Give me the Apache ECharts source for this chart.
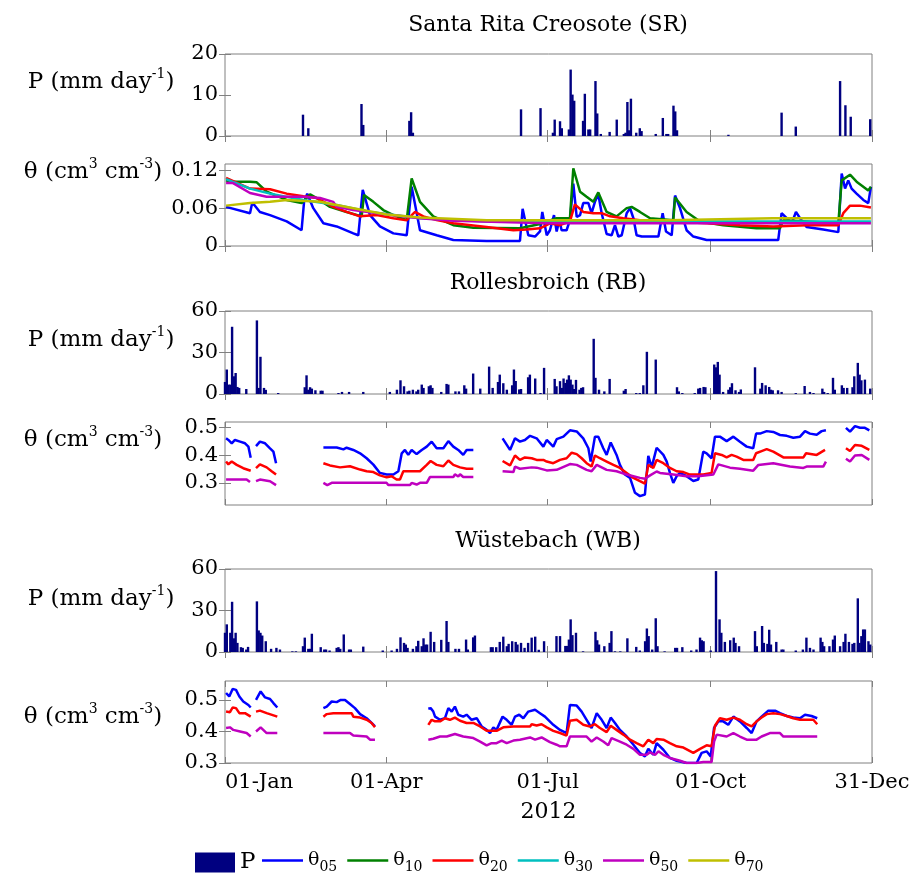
<!DOCTYPE html>
<html>
<head>
<meta charset="utf-8">
<script src="https://cdn.jsdelivr.net/npm/echarts@6/dist/echarts.min.js"></script>
<style>
html, body { margin: 0; padding: 0; background: #fff; }
#chart { width: 914px; height: 879px; }
</style>
</head>
<body>
<div id="chart"></div>
<script>
// day of year (0 = 01-Jan-2012) and value
const TICK_DAYS = [0, 91, 182, 274, 365]
const TICK_LABELS = ['01-Jan', '01-Apr', '01-Jul', '01-Oct', '31-Dec']
const YEAR = '2012'

// ---- Santa Rita Creosote ----
const SR_P = [[44,5.2],[47,1.9],[77,7.8],[78,2.7],[104,3.7],[105,5.8],[106,0.8],[167,6.5],[178,6.8],[185,0.8],[186,4.0],[189,3.6],[190,1.9],[194,1.6],[195,16.2],[196,10.1],[197,8.6],[202,3.7],[203,10.3],[205,1.6],[206,1.6],[209,13.4],[210,5.5],[212,0.5],[217,1.0],[221,4.0],[225,0.5],[226,0.8],[227,8.3],[228,1.4],[229,9.1],[232,0.8],[234,1.9],[235,1.2],[243,0.5],[247,4.4],[249,0.5],[250,0.5],[253,7.4],[254,6.0],[255,1.4],[284,0.3],[314,5.7],[322,2.3],[347,13.4],[350,7.5],[353,4.7],[364,4.1]]
const SR_T05 = [[0.6,0.062],[14.1,0.052],[15.4,0.069],[19.7,0.054],[25.4,0.049],[34.8,0.039],[43.2,0.025],[44.6,0.070],[46.4,0.083],[49.8,0.060],[55.5,0.036],[63,0.031],[72.4,0.020],[75.2,0.017],[77.7,0.089],[81.8,0.049],[87.4,0.031],[95,0.020],[102.5,0.017],[105.3,0.094],[110,0.025],[119.4,0.017],[128.8,0.0095],[147.6,0.008],[166.4,0.008],[167.9,0.059],[171.1,0.017],[174.9,0.015],[177.7,0.023],[179,0.054],[181.5,0.017],[183.3,0.025],[185.6,0.049],[187.1,0.023],[188.6,0.041],[189.9,0.025],[192.7,0.025],[194.6,0.041],[196.5,0.099],[198.4,0.046],[200.3,0.049],[202.1,0.068],[205,0.068],[206.8,0.052],[208.7,0.070],[210.6,0.082],[212.5,0.052],[215.3,0.019],[218.1,0.017],[220,0.033],[221.9,0.015],[223.8,0.017],[226.6,0.052],[228.5,0.060],[230.4,0.044],[232.2,0.017],[235.1,0.015],[244.5,0.015],[246.9,0.052],[248.8,0.023],[252,0.017],[253.9,0.080],[256.7,0.060],[260.4,0.025],[264.2,0.015],[271.7,0.0095],[290.5,0.0095],[312.1,0.0095],[314,0.052],[316.9,0.044],[319.7,0.036],[322.1,0.054],[324.4,0.044],[328.1,0.030],[337.5,0.026],[346,0.022],[347.9,0.115],[349.8,0.091],[351.6,0.104],[353.5,0.091],[356.3,0.083],[360.1,0.073],[362.9,0.068],[364.4,0.094]]
const SR_T10 = [[0.6,0.104],[5,0.102],[14.1,0.102],[17.9,0.101],[23.5,0.086],[34.8,0.073],[43.2,0.068],[48,0.082],[51.7,0.076],[59.2,0.062],[68.6,0.054],[77.1,0.047],[78.4,0.081],[83.7,0.070],[89.3,0.057],[95,0.049],[102.5,0.041],[105.3,0.107],[110,0.070],[117.5,0.047],[128.8,0.033],[140.1,0.029],[166.4,0.028],[177.7,0.035],[187.1,0.044],[194.6,0.044],[196.5,0.123],[200.3,0.086],[204,0.078],[207.8,0.070],[210.6,0.085],[215.3,0.054],[220.9,0.047],[226.6,0.060],[229.4,0.062],[234.1,0.054],[239.8,0.044],[252.9,0.041],[253.9,0.077],[260.4,0.054],[268,0.039],[281.1,0.033],[299.9,0.028],[313.1,0.028],[315,0.041],[328.1,0.039],[346,0.036],[347.9,0.104],[352.6,0.113],[356.3,0.102],[362.9,0.088],[364.4,0.094]]
const SR_T20 = [[0.6,0.108],[14.1,0.091],[25.4,0.090],[34.8,0.083],[44.2,0.079],[51.7,0.076],[61.1,0.062],[68.6,0.054],[76.1,0.047],[85.6,0.049],[95,0.044],[102.5,0.041],[107.2,0.054],[111.9,0.047],[119.4,0.041],[128.8,0.036],[147.6,0.030],[162.7,0.025],[170.2,0.026],[177.7,0.028],[183.3,0.036],[189,0.033],[194.6,0.039],[197.4,0.066],[202.1,0.054],[207.8,0.052],[212.5,0.052],[217.2,0.047],[224.7,0.044],[234.1,0.041],[252.9,0.039],[271.7,0.036],[290.5,0.033],[309.3,0.031],[328.1,0.033],[346,0.033],[348.8,0.052],[352.6,0.064],[358.2,0.064],[364.4,0.061]]
const SR_T30 = [[0.6,0.106],[14.1,0.091],[25.4,0.083],[44.2,0.073],[63,0.065],[81.8,0.054],[110,0.044],[147.6,0.039],[200,0.039],[300,0.039],[364.4,0.039]]
const SR_T50 = [[0.6,0.100],[4.3,0.100],[14.1,0.084],[23.5,0.078],[44.2,0.078],[53.6,0.076],[61.1,0.070],[63,0.062],[72.4,0.057],[91.2,0.050],[110,0.044],[128.8,0.040],[182.4,0.036],[250,0.036],[364.4,0.036]]
const SR_T70 = [[0.6,0.064],[14.1,0.068],[25.4,0.070],[34.8,0.073],[53.6,0.070],[72.4,0.060],[91.2,0.050],[110,0.045],[147.6,0.041],[182.4,0.041],[250,0.041],[309,0.044],[364.4,0.044]]

// ---- Rollesbroich ----
const RB_P = [[0,8.7],[1,17.7],[2,6.8],[3,6.8],[4,48.6],[5,12.8],[6,15.2],[7,5.1],[8,4.4],[12,3.6],[18,53.2],[19,4.4],[20,26.9],[22,4.4],[23,3.0],[30,0.7],[45,4.9],[46,13.5],[47,3.1],[48,4.9],[49,3.9],[51,2.7],[54,2.4],[55,2.4],[64,0.7],[66,1.5],[70,1.5],[78,1.5],[93,1.5],[97,3.1],[99,9.9],[101,5.6],[103,1.9],[104,2.4],[106,3.1],[108,1.9],[109,3.1],[111,6.8],[112,4.4],[115,5.6],[116,6.3],[117,4.4],[122,1.5],[125,7.3],[126,6.8],[130,1.9],[132,1.9],[135,6.3],[136,3.9],[140,14.8],[144,3.9],[149,19.8],[151,4.4],[154,8.7],[155,14.0],[157,7.8],[159,3.1],[162,6.3],[163,17.7],[164,9.4],[166,3.3],[167,3.6],[171,12.1],[172,14.0],[175,11.2],[178,0.7],[180,18.9],[186,10.9],[187,5.6],[189,9.3],[190,4.4],[191,11.2],[192,8.0],[193,10.4],[194,13.5],[195,10.4],[196,6.8],[197,3.6],[198,10.2],[200,3.1],[201,4.4],[202,4.9],[208,39.9],[209,11.7],[211,3.1],[214,1.9],[217,10.9],[225,2.4],[226,3.6],[232,0.7],[234,0.7],[236,6.3],[238,30.5],[243,24.9],[255,4.9],[256,1.9],[258,0.7],[265,0.7],[267,3.9],[268,4.4],[270,5.1],[271,4.9],[276,21.3],[277,19.3],[278,23.2],[279,14.0],[281,1.5],[284,3.1],[285,4.9],[286,7.8],[288,2.7],[290,1.5],[291,3.3],[299,19.3],[302,3.9],[303,8.0],[305,6.3],[307,5.1],[308,3.1],[309,2.7],[312,2.7],[314,1.5],[322,0.7],[327,5.8],[330,1.5],[332,0.7],[337,3.9],[338,1.5],[340,0.7],[343,11.7],[344,3.1],[348,6.3],[349,4.4],[351,4.4],[354,4.9],[355,12.8],[357,22.5],[358,14.0],[359,9.9],[361,10.4],[364,3.9]]
const RB_T05 = [[0.6,0.461],[1.9,0.455],[3.8,0.443],[5.6,0.455],[8.5,0.449],[11.3,0.443],[13.2,0.431],[14.5,0.391],[16,null],[17.5,0.433],[19.7,0.449],[22.6,0.443],[25.4,0.425],[27.3,0.413],[28.8,0.371],[40,null],[55.5,0.428],[63,0.428],[66.8,0.421],[68.6,0.427],[72.4,0.419],[76.2,0.407],[79.9,0.389],[83.7,0.366],[87.4,0.336],[91.2,0.330],[95,0.330],[97.8,0.342],[99.7,0.407],[101.5,0.419],[103.4,0.401],[105.3,0.419],[108.1,0.404],[111,0.419],[113.8,0.431],[116.6,0.449],[119.4,0.425],[123.2,0.425],[126,0.451],[128.8,0.431],[131.6,0.419],[134.4,0.401],[136.3,0.419],[140.1,0.419],[148,null],[156.6,0.461],[160.8,0.419],[163.6,0.461],[166.4,0.449],[169.2,0.455],[172.1,0.470],[175.8,0.461],[179.6,0.431],[181.5,0.455],[185.2,0.431],[187.1,0.458],[190.9,0.467],[194.6,0.490],[198.4,0.486],[202.1,0.461],[205,0.425],[206.3,0.377],[208.7,0.467],[210.6,0.467],[213.4,0.425],[215.3,0.401],[217.6,0.446],[220.9,0.401],[222.8,0.365],[225.6,0.330],[228.5,0.318],[231.3,0.264],[234.1,0.252],[236.9,0.258],[238.8,0.398],[240.7,0.356],[243.5,0.427],[247.3,0.401],[249.2,0.377],[251,0.336],[252.9,0.300],[254.8,0.324],[256.7,0.336],[260.4,0.324],[264.2,0.307],[267,0.312],[269.8,0.413],[271.7,0.407],[274.5,0.389],[276.4,0.467],[279.2,0.467],[283,0.451],[286.8,0.467],[290.5,0.449],[294.3,0.431],[298,0.425],[299.6,0.478],[301.8,0.478],[305.6,0.487],[309.3,0.484],[313.1,0.473],[316.9,0.470],[320.6,0.463],[324.4,0.467],[327.2,0.487],[330,0.478],[333.8,0.474],[336.6,0.487],[339,0.490],[345,null],[350.3,0.499],[352.6,0.485],[355.4,0.505],[358.2,0.499],[361,0.499],[363.5,0.490]]
const RB_T20 = [[0.6,0.377],[1.9,0.367],[3.8,0.377],[6.6,0.365],[10.3,0.353],[14.5,0.344],[16,null],[17.5,0.353],[19.7,0.367],[23.5,0.356],[26.3,0.342],[28.8,0.330],[40,null],[55.5,0.371],[59.2,0.363],[64.9,0.356],[70.5,0.360],[76.2,0.348],[79.9,0.342],[83.7,0.339],[87.4,0.327],[91.2,0.320],[94,0.324],[96.8,0.312],[98.7,0.312],[100.6,0.342],[110,0.342],[113.8,0.365],[116,0.379],[119.4,0.365],[123.2,0.360],[126,0.381],[128.8,0.365],[132.6,0.356],[136.3,0.351],[140.1,0.351],[148,null],[156.6,0.379],[160.8,0.363],[163.6,0.399],[166.4,0.383],[169.2,0.392],[173,0.389],[175.8,0.383],[179.6,0.383],[181.5,0.377],[185.2,0.371],[189,0.383],[192.7,0.389],[195.6,0.409],[198.4,0.404],[201.2,0.389],[204,0.371],[206.8,0.359],[208.7,0.399],[211.5,0.389],[215.3,0.377],[219.1,0.365],[222.8,0.354],[226.6,0.336],[230.4,0.318],[234.1,0.306],[236.9,0.297],[238.8,0.365],[241.6,0.354],[243.5,0.383],[247.3,0.371],[251,0.354],[254.8,0.342],[258.6,0.339],[262.3,0.330],[266.1,0.330],[269.8,0.330],[274.5,0.336],[276.4,0.407],[280.2,0.401],[283,0.392],[285.8,0.401],[288.6,0.395],[292.4,0.383],[298,0.383],[299.6,0.407],[302.7,0.415],[305.6,0.422],[309.3,0.413],[315,0.392],[320.6,0.392],[326.3,0.392],[327.8,0.407],[333.8,0.401],[338.5,0.419],[345,null],[350.3,0.425],[352.6,0.415],[355.4,0.437],[359.2,0.434],[363.5,0.419]]
const RB_T50 = [[0.6,0.312],[12.2,0.312],[14.1,0.303],[16,null],[17.5,0.306],[19.7,0.312],[25.4,0.306],[28.8,0.292],[40,null],[55.5,0.300],[57.7,0.292],[60.2,0.300],[91.2,0.300],[92.1,0.292],[104.4,0.292],[105.3,0.300],[108.1,0.294],[110,0.300],[113.8,0.300],[115.6,0.321],[128.8,0.321],[129.7,0.331],[131.6,0.323],[132.6,0.331],[134.4,0.321],[140.1,0.321],[148,null],[156.6,0.342],[162.7,0.339],[163.6,0.359],[166.4,0.351],[173,0.356],[175.8,0.355],[181.5,0.345],[187.1,0.347],[194.6,0.368],[198.4,0.365],[204,0.347],[206.8,0.342],[209.7,0.365],[215.3,0.347],[220.9,0.342],[226.6,0.330],[234.1,0.318],[236.9,0.315],[239.8,0.327],[243.5,0.341],[245.4,0.336],[252.9,0.330],[260.4,0.324],[267,0.324],[275.5,0.330],[278.3,0.367],[284.9,0.355],[290.5,0.351],[298,0.344],[300.9,0.365],[309.3,0.371],[318.7,0.359],[326.3,0.354],[328.1,0.359],[337.5,0.359],[339,0.377],[345,null],[350.3,0.387],[352.6,0.377],[355.4,0.399],[359.2,0.401],[363.5,0.383]]

// ---- Wuestebach ----
const WB_P = [[0,13.9],[1,20.0],[3,13.9],[4,36.3],[5,9.9],[6,13.9],[7,6.6],[9,3.5],[10,3.0],[12,1.8],[13,3.7],[18,36.6],[19,15.6],[20,13.9],[21,11.9],[23,7.8],[26,2.3],[29,3.0],[31,1.8],[38,0.5],[40,0.5],[44,4.2],[45,10.4],[47,2.3],[48,2.3],[49,13.2],[54,3.5],[56,1.8],[57,1.8],[59,1.1],[63,3.0],[64,3.5],[65,2.3],[67,12.7],[70,1.8],[71,1.8],[78,3.9],[89,1.1],[94,1.1],[97,2.3],[99,10.6],[101,6.6],[102,5.4],[103,3.0],[106,2.3],[108,4.2],[109,8.1],[111,4.2],[112,9.9],[113,5.4],[114,5.4],[116,14.6],[118,7.3],[122,8.8],[125,22.4],[126,7.3],[130,2.3],[132,2.3],[136,9.0],[137,1.8],[140,10.6],[141,11.9],[150,3.5],[151,3.5],[153,3.5],[155,7.3],[157,11.1],[159,4.2],[160,5.9],[162,7.8],[164,7.3],[165,5.4],[167,6.6],[169,3.0],[171,6.6],[173,10.4],[175,11.1],[177,1.6],[180,7.8],[187,11.5],[189,11.5],[192,4.4],[193,4.4],[194,9.0],[195,23.6],[196,12.2],[198,13.9],[202,0.5],[209,14.6],[210,8.5],[211,5.4],[214,4.2],[217,6.6],[218,15.1],[220,0.5],[223,0.5],[227,9.9],[232,3.7],[234,1.1],[237,7.8],[238,17.0],[239,11.5],[241,1.8],[243,24.4],[244,4.2],[248,0.5],[254,3.0],[255,3.0],[258,3.5],[263,1.1],[266,1.8],[268,10.4],[269,8.5],[270,7.8],[274,1.1],[277,58.5],[279,23.6],[280,13.9],[282,7.3],[285,8.5],[287,10.4],[288,6.6],[290,4.2],[299,15.1],[300,4.2],[303,18.8],[304,6.6],[306,5.9],[307,16.1],[308,5.4],[311,7.3],[314,1.8],[315,1.8],[322,1.1],[326,1.8],[328,10.4],[330,3.0],[332,1.8],[336,10.4],[337,7.3],[338,4.2],[341,4.2],[343,9.0],[344,11.9],[347,4.2],[349,7.3],[350,13.2],[352,7.3],[354,5.9],[355,6.6],[357,38.8],[358,6.6],[359,11.5],[360,16.3],[361,16.3],[363,7.8],[364,5.4]]
const WB_T05 = [[0.6,0.522],[2.4,0.511],[4.3,0.535],[6.2,0.532],[8.1,0.511],[10.3,0.495],[13.2,0.484],[14.5,0.476],[16,null],[17.5,0.500],[20.1,0.527],[22.6,0.508],[25.4,0.503],[27.3,0.490],[29.5,0.476],[40,null],[55.5,0.474],[57.4,0.479],[60.2,0.495],[63,0.493],[65.3,0.500],[67.7,0.500],[70.5,0.487],[73.3,0.474],[76.2,0.455],[79.9,0.442],[82.7,0.427],[84.6,0.416],[100,null],[114.7,0.472],[116,0.474],[117.5,0.463],[118.5,0.447],[121.3,0.437],[124.1,0.442],[126,0.474],[127.9,0.463],[129.7,0.479],[131.6,0.453],[134.4,0.447],[136.3,0.453],[139.1,0.437],[142,0.442],[144.8,0.416],[147.6,0.405],[149.5,0.395],[151.4,0.413],[153.2,0.405],[156.6,0.447],[158.9,0.437],[161.7,0.421],[163.6,0.447],[166,0.453],[168.3,0.442],[171.1,0.463],[174.9,0.469],[177.7,0.458],[180.5,0.447],[181.5,0.442],[185.2,0.421],[189,0.405],[192.7,0.395],[194.6,0.484],[198.4,0.482],[201.2,0.463],[204,0.437],[206.8,0.411],[209.7,0.458],[212.5,0.437],[215.3,0.411],[217.6,0.444],[220,0.427],[222.8,0.405],[226.6,0.384],[230.4,0.358],[234.1,0.332],[236.9,0.321],[238.8,0.345],[241.6,0.326],[243.5,0.363],[247.3,0.342],[251,0.316],[254.8,0.307],[260.4,0.300],[266.1,0.300],[268.9,0.332],[271.7,0.337],[274,0.321],[275.9,0.411],[278.3,0.432],[281.1,0.432],[283.9,0.421],[286.8,0.447],[290.5,0.432],[294.3,0.411],[297.1,0.395],[299.9,0.432],[302.7,0.447],[306.5,0.466],[310.3,0.466],[313.1,0.458],[316.9,0.449],[320.6,0.444],[324.4,0.442],[327.2,0.453],[328.1,0.455],[330.9,0.449],[334.1,0.442]]
const WB_T20 = [[0.6,0.463],[2.8,0.461],[4.3,0.476],[6.2,0.474],[8.1,0.458],[11.3,0.458],[14.5,0.447],[16,null],[17.5,0.463],[19.7,0.466],[23.5,0.458],[29.5,0.447],[40,null],[55.5,0.447],[57.4,0.455],[61.1,0.458],[71.5,0.458],[72.4,0.447],[76.2,0.444],[79.9,0.437],[82.7,0.427],[84.6,0.413],[100,null],[114.7,0.421],[116.6,0.437],[118.5,0.432],[121.3,0.432],[124.1,0.442],[126.9,0.437],[129.7,0.444],[132.6,0.434],[136.3,0.427],[140.1,0.427],[143.9,0.416],[147.6,0.402],[153.2,0.402],[157,0.413],[162.7,0.416],[172.1,0.416],[173,0.423],[175.8,0.419],[178.6,0.423],[181.5,0.413],[185.2,0.402],[189,0.395],[192.7,0.387],[194.6,0.434],[198.4,0.437],[202.1,0.421],[205.9,0.416],[208.7,0.423],[211.5,0.411],[215.3,0.398],[217.6,0.418],[220.9,0.405],[224.7,0.390],[228.5,0.374],[232.2,0.363],[236,0.353],[238.8,0.374],[241.6,0.363],[243.5,0.376],[247.3,0.374],[251,0.363],[254.8,0.353],[258.6,0.349],[264.2,0.332],[268,0.345],[271.7,0.356],[274.5,0.353],[276.4,0.418],[279.2,0.442],[283,0.437],[286.8,0.444],[290.5,0.437],[294.3,0.423],[297.1,0.416],[299.9,0.432],[302.7,0.444],[305.6,0.455],[309.3,0.458],[313.1,0.455],[316.9,0.449],[320.6,0.442],[324.4,0.437],[328.1,0.437],[331.9,0.437],[334.1,0.423]]
const WB_T50 = [[0.6,0.411],[2.8,0.413],[4.7,0.405],[8.5,0.400],[12.2,0.395],[14.5,0.384],[16,null],[17.5,0.400],[20.1,0.413],[23.5,0.395],[29.5,0.395],[40,null],[55.5,0.395],[70.5,0.395],[72.4,0.387],[79.9,0.384],[81.8,0.374],[84.6,0.374],[100,null],[114.7,0.374],[117.5,0.377],[121.3,0.384],[125.1,0.384],[129.7,0.392],[134.4,0.384],[140.1,0.379],[143.9,0.368],[147.6,0.356],[150.4,0.363],[153.2,0.363],[156.1,0.371],[158.9,0.363],[162.7,0.371],[166.4,0.374],[172.1,0.381],[174.9,0.374],[178.6,0.381],[183.3,0.366],[187.1,0.358],[189,0.353],[192.7,0.353],[194.6,0.384],[204,0.384],[206.8,0.368],[209.7,0.381],[213.4,0.368],[216.2,0.356],[218.1,0.379],[222.8,0.368],[226.6,0.358],[230.4,0.345],[234.1,0.326],[237.9,0.326],[239.8,0.334],[242.6,0.326],[244.5,0.337],[247.3,0.326],[251,0.316],[256.7,0.307],[260.4,0.300],[266.1,0.300],[269.8,0.303],[274.5,0.303],[275.9,0.368],[277.4,0.390],[283,0.384],[286.8,0.395],[290.5,0.384],[294.3,0.374],[299.9,0.374],[302.7,0.384],[307.4,0.395],[313.1,0.395],[315,0.384],[324.4,0.384],[334.1,0.384]]

const FONT = 'DejaVu Serif'
const AXIS_COLOR = '#808080'
const NAVY = '#000080'
const LINE_NAMES = ['θ05', 'θ10', 'θ20', 'θ30', 'θ50', 'θ70']
const LINE_COLORS = { 'θ05': '#0000ff', 'θ10': '#008000', 'θ20': '#ff0000', 'θ30': '#00bfbf', 'θ50': '#bf00bf', 'θ70': '#bfbf00' }

// one entry per axes box, top to bottom
const panels = [
  { top: 54, height: 82, min: 0, max: 20, ticks: [0, 10, 20] },
  { top: 164, height: 82, min: 0, max: 0.13, ticks: [0, 0.06, 0.12] },
  { top: 311, height: 83, min: 0, max: 60, ticks: [0, 30, 60] },
  { top: 422, height: 83, min: 0.22, max: 0.52, ticks: [0.3, 0.4, 0.5] },
  { top: 569, height: 83, min: 0, max: 60, ticks: [0, 30, 60] },
  { top: 681, height: 82, min: 0.3, max: 0.56, ticks: [0.3, 0.4, 0.5] }
]

const chart = echarts.init(document.getElementById('chart'))

const grids = []
const xAxes = []
const yAxes = []
panels.forEach((p, i) => {
  const last = i === panels.length - 1
  grids.push({ left: 225, width: 647, top: p.top, height: p.height, show: true, borderColor: AXIS_COLOR, borderWidth: 1, backgroundColor: '#fff' })
  const tick = (vals) => ({ show: true, inside: true, length: 6, customValues: vals, lineStyle: { color: AXIS_COLOR } })
  ;['bottom', 'top'].forEach((pos) => {
    xAxes.push({
      type: 'value', gridIndex: i, position: pos, min: 0, max: 365,
      axisLine: { show: false }, splitLine: { show: false },
      axisTick: tick(TICK_DAYS),
      axisLabel: {
        show: last && pos === 'bottom', customValues: TICK_DAYS, margin: 9, alignMinLabel: 'left',
        fontFamily: FONT, fontSize: 21, color: '#000',
        formatter: (v) => TICK_LABELS[TICK_DAYS.indexOf(v)] || ''
      },
      name: last && pos === 'bottom' ? YEAR : '', nameLocation: 'middle', nameGap: 38,
      nameTextStyle: { fontFamily: FONT, fontSize: 22, color: '#000' }
    })
  })
  ;['left', 'right'].forEach((pos) => {
    yAxes.push({
      type: 'value', gridIndex: i, position: pos, min: p.min, max: p.max,
      axisLine: { show: false }, splitLine: { show: false },
      axisTick: tick(p.ticks),
      axisLabel: { show: pos === 'left', customValues: p.ticks, margin: 7, fontFamily: FONT, fontSize: 21, color: '#000' }
    })
  })
})

function barSeries (grid, data) {
  return { type: 'bar', name: 'P', xAxisIndex: grid * 2, yAxisIndex: grid * 2, data: data, barWidth: 2.4, itemStyle: { color: NAVY } }
}
function lineSeries (grid, name, data) {
  return {
    type: 'line', name: name, xAxisIndex: grid * 2, yAxisIndex: grid * 2, data: data,
    showSymbol: false, symbol: 'none', connectNulls: false,
    lineStyle: { width: 2.5, color: LINE_COLORS[name] }, itemStyle: { color: LINE_COLORS[name] }
  }
}

const series = [
  barSeries(0, SR_P),
  lineSeries(1, 'θ05', SR_T05), lineSeries(1, 'θ10', SR_T10), lineSeries(1, 'θ20', SR_T20),
  lineSeries(1, 'θ30', SR_T30), lineSeries(1, 'θ50', SR_T50), lineSeries(1, 'θ70', SR_T70),
  barSeries(2, RB_P),
  lineSeries(3, 'θ05', RB_T05), lineSeries(3, 'θ20', RB_T20), lineSeries(3, 'θ50', RB_T50),
  barSeries(4, WB_P),
  lineSeries(5, 'θ05', WB_T05), lineSeries(5, 'θ20', WB_T20), lineSeries(5, 'θ50', WB_T50)
]

// titles and the horizontal y labels
function label (text, x, y, size) {
  return {
    text: text, left: x, top: y, textAlign: 'center', textVerticalAlign: 'middle', padding: 0,
    textStyle: {
      fontFamily: FONT, fontSize: size, fontWeight: 'normal', color: '#000', lineHeight: 30,
      rich: { sup: { fontFamily: FONT, fontSize: 14, lineHeight: 14, verticalAlign: 'top', color: '#000' } }
    }
  }
}
const P_LABEL = 'P (mm day{sup|-1})'
const T_LABEL = 'θ (cm{sup|3} cm{sup|-3})'
const titles = [
  label('Santa Rita Creosote (SR)', 548, 25, 22),
  label('Rollesbroich (RB)', 548, 283, 22),
  label('Wüstebach (WB)', 548, 541, 22),
  label(P_LABEL, 101, 82, 23), label(T_LABEL, 93, 172, 23),
  label(P_LABEL, 101, 340, 23), label(T_LABEL, 93, 440, 23),
  label(P_LABEL, 101, 599, 23), label(T_LABEL, 93, 717, 23)
]

const legendRich = {
  p: { fontFamily: FONT, fontSize: 23, lineHeight: 28 },
  t: { fontFamily: FONT, fontSize: 19, lineHeight: 28 },
  s: { fontFamily: FONT, fontSize: 14, lineHeight: 14, verticalAlign: 'bottom' }
}

chart.setOption({
  animation: false,
  title: titles,
  grid: grids,
  xAxis: xAxes,
  yAxis: yAxes,
  legend: [
    {
      left: 195, top: 851, padding: 0, itemWidth: 40, itemHeight: 20, icon: 'rect',
      data: ['P'],
      formatter: '{p|P}',
      textStyle: { color: '#000', rich: legendRich }
    },
    {
      left: 262, top: 851, padding: 0, itemWidth: 41, itemHeight: 2.5, itemGap: 10, icon: 'rect',
      data: LINE_NAMES,
      formatter: (name) => '{t|θ}{s|' + name.slice(1) + '}',
      textStyle: { color: '#000', rich: legendRich }
    }
  ],
  series: series
})
</script>
</body>
</html>
